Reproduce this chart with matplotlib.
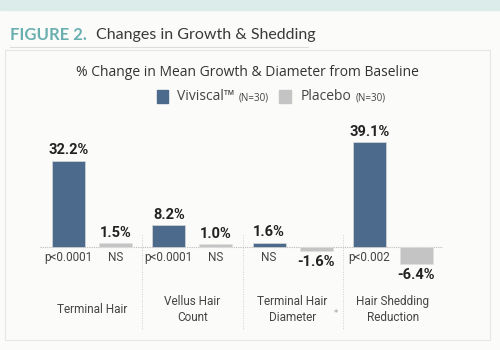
import numpy as np
import matplotlib.pyplot as plt
from matplotlib.patches import Rectangle

categories = ['Terminal Hair', 'Vellus Hair\nCount', 'Terminal Hair\nDiameter', 'Hair Shedding\nReduction']
viviscal = [32.2, 8.2, 1.6, 39.1]
placebo = [1.5, 1.0, -1.6, -6.4]
viviscal_p = ['p<0.0001', 'p<0.0001', 'NS', 'p<0.002']
placebo_p = ['NS', 'NS', '', '']

blue = '#4b6a8c'
grey = '#c4c4c4'
teal = '#6aafb0'
dark = '#333333'
narrow = ['Liberation Sans Narrow', 'DejaVu Sans Condensed', 'Roboto', 'DejaVu Sans']

fig = plt.figure(figsize=(5, 3.5), dpi=100)
fig.patch.set_facecolor('#fbfbfa')

# top band and header
fig.add_artist(Rectangle((0, 1 - 10 / 350), 1, 10 / 350, transform=fig.transFigure,
                         color='#dcecea', zorder=0))
fig.text(10 / 500, 1 - 35 / 350, 'FIGURE 2.', color=teal, fontsize=12, fontweight='bold',
         family='Lato', va='center')
fig.text(96 / 500, 1 - 35 / 350, 'Changes in Growth & Shedding', color='#3a3a3a', fontsize=11.5,
         family='Lato', va='center')
fig.add_artist(plt.Line2D([10 / 500, 308 / 500], [1 - 47 / 350] * 2, transform=fig.transFigure,
                          color='#dddddd', lw=0.8))
fig.add_artist(Rectangle((5 / 500, 10 / 350), 485 / 500, 290 / 350, transform=fig.transFigure,
                         facecolor='none', edgecolor='#e6e6e6', lw=0.8))
fig.text(247 / 500, 1 - 72 / 350, '% Change in Mean Growth & Diameter from Baseline', color=dark,
         fontsize=10, family='Open Sans', ha='center', va='center')

# legend
fig.add_artist(Rectangle((157 / 500, 1 - 103 / 350), 11 / 500, 13 / 350, transform=fig.transFigure,
                         color=blue))
fig.add_artist(Rectangle((279 / 500, 1 - 103 / 350), 12 / 500, 13 / 350, transform=fig.transFigure,
                         color=grey))
t1 = fig.text(177 / 500, 1 - 97 / 350, 'Viviscal\u2122', color='#444444', fontsize=10,
              family='Open Sans', va='center')
t2 = fig.text(301 / 500, 1 - 97 / 350, 'Placebo', color='#444444', fontsize=10,
              family='Open Sans', va='center')
for t in (t1, t2):
    fig.add_artist(plt.Annotation('(N=30)', xy=(1, 0.45), xycoords=t, xytext=(3, 0),
                                  textcoords='offset points', va='center', ha='left',
                                  fontsize=7, color='#444444', family='Open Sans'))

# plot area: x 40..443 px, y 130..340 px, baseline at 247 px
ax = fig.add_axes([40 / 500, 10 / 350, 403 / 500, 210 / 350])
ax.set_facecolor('none')
scale = 2.68
ax.set_xlim(-0.52, 3.5)
ax.set_ylim(-(340 - 247) / scale, (247 - 130) / scale)
ax.axis('off')

x = np.arange(len(categories))
off, w = 0.235, 0.33
ax.bar(x - off, viviscal, w, color=blue, edgecolor='#d8d8d8', lw=0.5, zorder=2)
ax.bar(x + off, placebo, w, color=grey, edgecolor='#e0e0e0', lw=0.5, zorder=2)
ax.axhline(0, color='#bbbbbb', lw=0.8, ls=(0, (1, 1)), zorder=1)

for i in range(len(categories)):
    ax.text(x[i] - off, viviscal[i] + 1.2, f'{viviscal[i]:.1f}%', ha='center', va='bottom',
            fontsize=10.5, fontweight='bold', color='#222222', family=narrow)
    if placebo[i] >= 0:
        ax.text(x[i] + off, placebo[i] + 1.2, f'{placebo[i]:.1f}%', ha='center', va='bottom',
                fontsize=10.5, fontweight='bold', color='#222222', family=narrow)
    else:
        ax.text(x[i] + off, placebo[i] - 1.5, f'{placebo[i]:.1f}%', ha='center', va='top',
                fontsize=10.5, fontweight='bold', color='#222222', family=narrow)
    ax.text(x[i] - off, -4.1, viviscal_p[i], ha='center', va='center', fontsize=8.5,
            color='#444444', family=narrow)
    if placebo_p[i]:
        ax.text(x[i] + off, -4.1, placebo_p[i], ha='center', va='center', fontsize=8.5,
                color='#444444', family=narrow)
    ax.text(x[i], -23.5, categories[i], ha='center', va='center', fontsize=8.5,
            color='#444444', family=narrow, linespacing=1.3)

for s in x[:-1] + 0.5:
    ax.plot([s, s], [4.5, -31], color='#d0d0d0', lw=0.7, ls=(0, (1, 1.5)), zorder=1)

ax.text(2.43, -24.8, '*', ha='center', va='center', fontsize=6, color='#999999')

fig.savefig('out.png', dpi=100, facecolor=fig.get_facecolor())
